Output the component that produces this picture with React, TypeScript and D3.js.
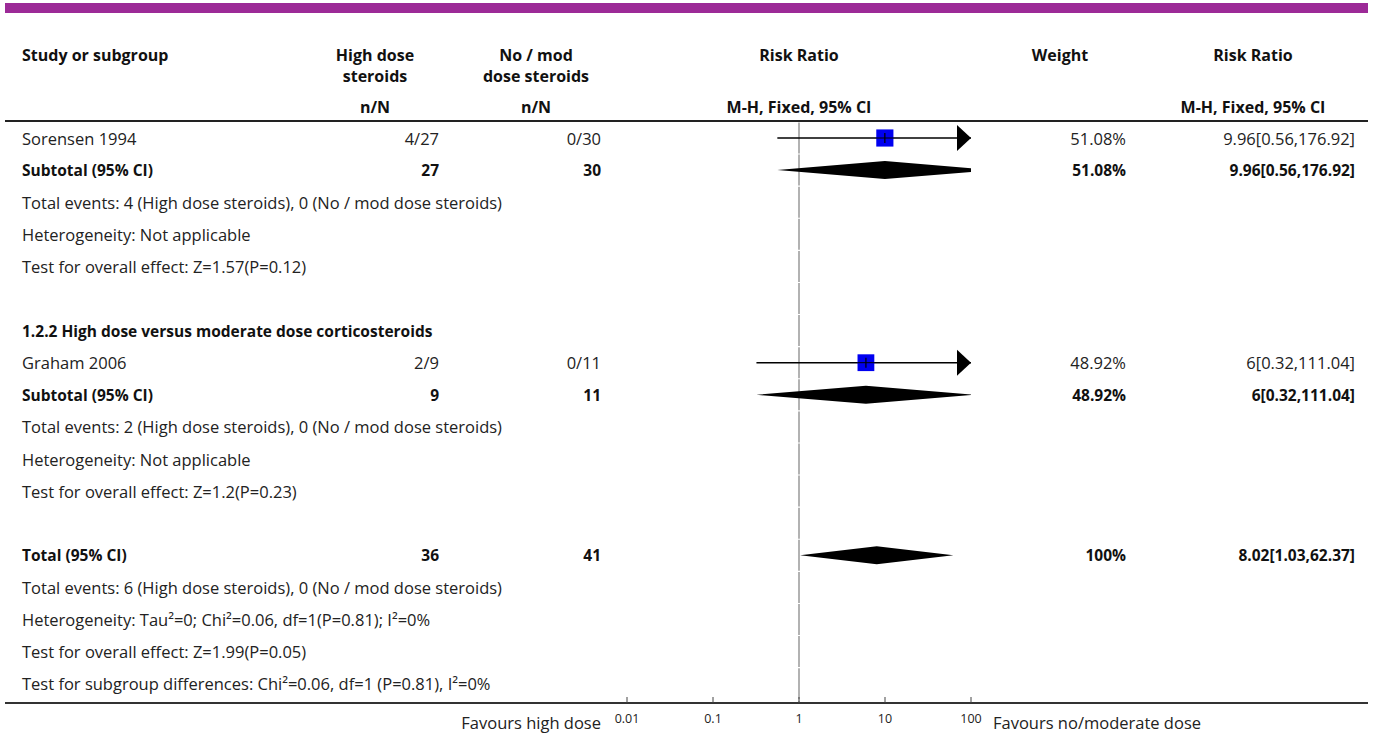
import React from "react";
import * as d3 from "d3";

// Studies
const studyNames = ["Sorensen 1994", "Graham 2006"];
const highEvents = [4, 2];
const highTotals = [27, 9];
const modEvents = [0, 0];
const modTotals = [30, 11];
const studyRR = [9.96, 6];
const studyLow = [0.56, 0.32];
const studyHigh = [176.92, 111.04];
const studyWeight = [51.08, 48.92];

// Subgroup headings and footnotes
const subgroupTitles = ["", "1.2.2 High dose versus moderate dose corticosteroids"];
const subgroupEvents = [
  "Total events: 4 (High dose steroids), 0 (No / mod dose steroids)",
  "Total events: 2 (High dose steroids), 0 (No / mod dose steroids)",
];
const subgroupHetero = ["Heterogeneity: Not applicable", "Heterogeneity: Not applicable"];
const subgroupEffect = ["Test for overall effect: Z=1.57(P=0.12)", "Test for overall effect: Z=1.2(P=0.23)"];
const subgroupRR = ["9.96[0.56,176.92]", "6[0.32,111.04]"];

// Overall
const totalHigh = 36;
const totalMod = 41;
const totalRR = 8.02;
const totalLow = 1.03;
const totalUpper = 62.37;
const totalWeight = 100;
const totalFooter = [
  "Total events: 6 (High dose steroids), 0 (No / mod dose steroids)",
  "Heterogeneity: Tau²=0; Chi²=0.06, df=1(P=0.81); I²=0%",
  "Test for overall effect: Z=1.99(P=0.05)",
  "Test for subgroup differences: Chi²=0.06, df=1 (P=0.81), I²=0%",
];

const axisTicks = [0.01, 0.1, 1, 10, 100];

const FONT = "'Open Sans', 'Noto Sans', sans-serif";
const W = 1375;
const H = 733;

type Row =
  | { kind: "title"; text: string }
  | { kind: "study"; i: number }
  | { kind: "subtotal"; i: number }
  | { kind: "note"; text: string }
  | { kind: "blank" }
  | { kind: "total" };

export default function App() {
  const x = d3.scaleLog().domain([0.01, 100]).range([627, 971]);
  const wScale = d3.scaleSqrt().domain([0, 100]).range([0, 24]);
  const fmt = (v: number) => `${+v.toFixed(2)}%`;

  const rows: Row[] = [];
  subgroupTitles.forEach((t, i) => {
    if (t) rows.push({ kind: "title", text: t });
    rows.push({ kind: "study", i });
    rows.push({ kind: "subtotal", i });
    rows.push({ kind: "note", text: subgroupEvents[i] });
    rows.push({ kind: "note", text: subgroupHetero[i] });
    rows.push({ kind: "note", text: subgroupEffect[i] });
    rows.push({ kind: "blank" });
  });
  rows.push({ kind: "total" });
  totalFooter.forEach((t) => rows.push({ kind: "note", text: t }));

  const rowY = d3.scaleLinear().domain([0, 1]).range([138, 138 + 32.1]);

  const colStudy = 22;
  const colHigh = 439;
  const colMod = 601;
  const colWeight = 1126;
  const colCI = 1355;
  const x1 = x(1);

  const textBase = { fontFamily: FONT, fontSize: 16.5, fill: "#222" } as const;
  const bold = { fontFamily: FONT, fontSize: 15.5, fill: "#111", fontWeight: 700 } as const;
  const header = { ...bold, fontSize: 16 } as const;

  const ciLine = (lo: number, hi: number, y: number, key: string) => {
    const [d0, d1] = x.domain();
    const a = x(Math.max(lo, d0));
    const b = x(Math.min(hi, d1));
    const els = [<line key={key + "l"} x1={a} x2={b} y1={y} y2={y} stroke="#000" strokeWidth={1.5} />];
    if (hi > d1) {
      els.push(
        <path key={key + "ar"} d={`M${b - 14},${y - 13}L${b},${y}L${b - 14},${y + 13}Z`} fill="#000" />
      );
    }
    if (lo < d0) {
      els.push(
        <path key={key + "al"} d={`M${a + 14},${y - 13}L${a},${y}L${a + 14},${y + 13}Z`} fill="#000" />
      );
    }
    return els;
  };

  const diamond = (est: number, lo: number, hi: number, y: number, key: string) => {
    const h = 9;
    const [d0, d1] = x.domain();
    const xe = x(est);
    const xl = x(lo);
    const xh = x(hi);
    const cl = x(Math.max(lo, d0));
    const ch = x(Math.min(hi, d1));
    const hl = xl < cl ? (h * (xe - cl)) / (xe - xl) : 0;
    const hh = xh > ch ? (h * (xh - ch)) / (xh - xe) : 0;
    const pts = [
      [cl, y - hl],
      [xe, y - h],
      [ch, y - hh],
      [ch, y + hh],
      [xe, y + h],
      [cl, y + hl],
    ];
    return <path key={key} d={d3.line()(pts as [number, number][]) + "Z"} fill="#000" />;
  };

  return (
    <svg
      width={W}
      height={H}
      viewBox={`0 0 ${W} ${H}`}
      style={{ position: "absolute", left: 0, top: 0, background: "#fff" }}
    >
      <rect x={5} y={3} width={1363} height={10} fill="#9c2a97" />

      {/* Column headers */}
      <g {...header}>
        <text x={colStudy} y={55} dominantBaseline="central">Study or subgroup</text>
        <text x={375} y={55} textAnchor="middle" dominantBaseline="central">High dose</text>
        <text x={375} y={76} textAnchor="middle" dominantBaseline="central">steroids</text>
        <text x={536} y={55} textAnchor="middle" dominantBaseline="central">No / mod</text>
        <text x={536} y={76} textAnchor="middle" dominantBaseline="central">dose steroids</text>
        <text x={375} y={107} textAnchor="middle" dominantBaseline="central">n/N</text>
        <text x={536} y={107} textAnchor="middle" dominantBaseline="central">n/N</text>
        <text x={x1} y={55} textAnchor="middle" dominantBaseline="central">Risk Ratio</text>
        <text x={x1} y={107} textAnchor="middle" dominantBaseline="central">M-H, Fixed, 95% CI</text>
        <text x={1060} y={55} textAnchor="middle" dominantBaseline="central">Weight</text>
        <text x={1253} y={55} textAnchor="middle" dominantBaseline="central">Risk Ratio</text>
        <text x={1253} y={107} textAnchor="middle" dominantBaseline="central">M-H, Fixed, 95% CI</text>
      </g>
      <line x1={5} x2={1368} y1={121} y2={121} stroke="#222" strokeWidth={2} />

      {/* Line of no effect */}
      {rows.map((_, k) => {
        const y = rowY(k);
        return (
          <line key={"v" + k} x1={x1} x2={x1} y1={y - 15.5} y2={y + 15.5} stroke="#999" strokeWidth={1.5} />
        );
      })}
      <line x1={x1} x2={x1} y1={rowY(rows.length - 1) + 17} y2={702} stroke="#999" strokeWidth={1.5} />

      {rows.map((r, k) => {
        const y = rowY(k);
        const key = "r" + k;
        if (r.kind === "blank") return null;
        if (r.kind === "title")
          return (
            <text key={key} {...bold} x={colStudy} y={y} dominantBaseline="central">
              {r.text}
            </text>
          );
        if (r.kind === "note")
          return (
            <text key={key} {...textBase} x={colStudy} y={y} dominantBaseline="central">
              {r.text}
            </text>
          );
        if (r.kind === "study") {
          const i = r.i;
          const s = wScale(studyWeight[i]);
          const xe = x(studyRR[i]);
          return (
            <g key={key}>
              <text {...textBase} x={colStudy} y={y} dominantBaseline="central">{studyNames[i]}</text>
              <text {...textBase} x={colHigh} y={y} textAnchor="end" dominantBaseline="central">
                {`${highEvents[i]}/${highTotals[i]}`}
              </text>
              <text {...textBase} x={colMod} y={y} textAnchor="end" dominantBaseline="central">
                {`${modEvents[i]}/${modTotals[i]}`}
              </text>
              {ciLine(studyLow[i], studyHigh[i], y, key)}
              <rect x={xe - s / 2} y={y - s / 2} width={s} height={s} fill="#0000f0" />
              <line x1={xe - s / 2} x2={xe + s / 2} y1={y} y2={y} stroke="#000" strokeWidth={1} />
              <line x1={xe} x2={xe} y1={y - 5} y2={y + 5} stroke="#000" strokeWidth={1.2} />
              <text {...textBase} x={colWeight} y={y} textAnchor="end" dominantBaseline="central">
                {fmt(studyWeight[i])}
              </text>
              <text {...textBase} x={colCI} y={y} textAnchor="end" dominantBaseline="central">
                {`${studyRR[i]}[${studyLow[i]},${studyHigh[i]}]`}
              </text>
            </g>
          );
        }
        if (r.kind === "subtotal") {
          const i = r.i;
          return (
            <g key={key}>
              <text {...bold} x={colStudy} y={y} dominantBaseline="central">Subtotal (95% CI)</text>
              <text {...bold} x={colHigh} y={y} textAnchor="end" dominantBaseline="central">{highTotals[i]}</text>
              <text {...bold} x={colMod} y={y} textAnchor="end" dominantBaseline="central">{modTotals[i]}</text>
              {diamond(studyRR[i], studyLow[i], studyHigh[i], y, key + "d")}
              <text {...bold} x={colWeight} y={y} textAnchor="end" dominantBaseline="central">
                {fmt(studyWeight[i])}
              </text>
              <text {...bold} x={colCI} y={y} textAnchor="end" dominantBaseline="central">{subgroupRR[i]}</text>
            </g>
          );
        }
        return (
          <g key={key}>
            <text {...bold} x={colStudy} y={y} dominantBaseline="central">Total (95% CI)</text>
            <text {...bold} x={colHigh} y={y} textAnchor="end" dominantBaseline="central">{totalHigh}</text>
            <text {...bold} x={colMod} y={y} textAnchor="end" dominantBaseline="central">{totalMod}</text>
            {diamond(totalRR, totalLow, totalUpper, y, key + "d")}
            <text {...bold} x={colWeight} y={y} textAnchor="end" dominantBaseline="central">{fmt(totalWeight)}</text>
            <text {...bold} x={colCI} y={y} textAnchor="end" dominantBaseline="central">
              {`${totalRR}[${totalLow},${totalUpper}]`}
            </text>
          </g>
        );
      })}

      {/* Bottom axis */}
      <line x1={5} x2={1368} y1={703} y2={703} stroke="#333" strokeWidth={2} />
      {axisTicks.map((t) => (
        <g key={"t" + t}>
          <line x1={x(t)} x2={x(t)} y1={703} y2={697} stroke="#444" strokeWidth={1} />
          <text x={x(t)} y={718} textAnchor="middle" dominantBaseline="central" fontFamily={FONT} fontSize={12.5} fill="#222">
            {t}
          </text>
        </g>
      ))}
      <text {...textBase} x={601} y={722} textAnchor="end" dominantBaseline="central">Favours high dose</text>
      <text {...textBase} x={993} y={722} dominantBaseline="central">Favours no/moderate dose</text>
    </svg>
  );
}
